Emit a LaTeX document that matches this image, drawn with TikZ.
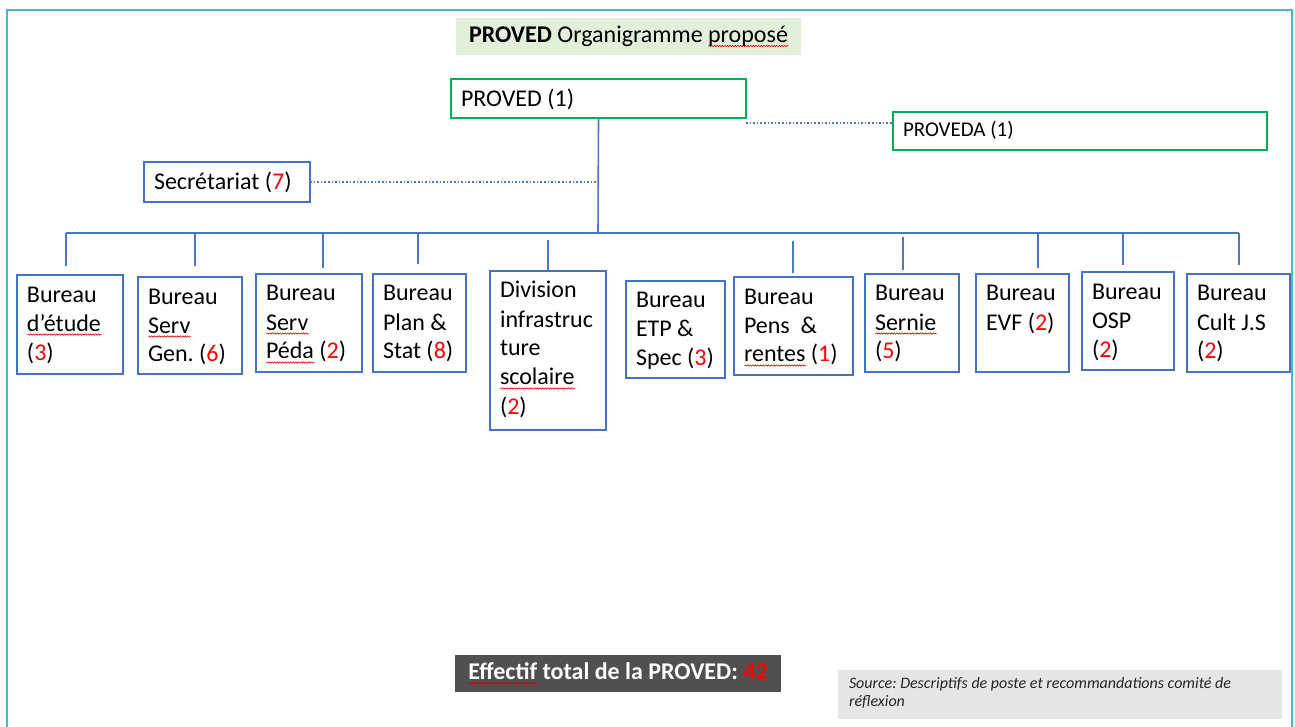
\documentclass[tikz,border=0pt]{standalone}
\usepackage{fontspec}
\setmainfont{Carlito}
\usetikzlibrary{decorations.pathmorphing}

\definecolor{boxblue}{HTML}{4472C4}
\definecolor{linkblue}{HTML}{4A76C6}
\definecolor{headgreen}{HTML}{00B050}
\definecolor{titlegreen}{HTML}{E2EFDA}
\definecolor{framecol}{HTML}{40BEC4}
\definecolor{totalgray}{HTML}{505050}
\definecolor{srcgray}{HTML}{E7E6E6}
\definecolor{numred}{HTML}{FF0000}

% red number inside a label
\newcommand\nr[1]{\textcolor{numred}{#1}}
% spell-check style wavy underline
\newlength\sqlen
\newcommand\sq[1]{\settowidth\sqlen{#1}\leavevmode\rlap{\tikz[baseline=0pt]\draw[numred!85!black,line width=0.6pt,decorate,decoration={snake,amplitude=0.7pt,segment length=2.6pt}] (0pt,-3.5pt)--(\sqlen,-3.5pt);}#1}

\tikzset{
  plain text/.style={align=flush left,
    execute at begin node={\spaceskip=0pt\xspaceskip=0pt\frenchspacing}},
  unit/.style={draw=boxblue, line width=2.8pt, anchor=north west, outer sep=0pt,
    inner xsep=10pt, inner ysep=0pt, plain text, text height=27pt,
    font=\fontsize{24}{29}\selectfont},
  head/.style={unit, draw=headgreen},
  link/.style={draw=linkblue, line width=1.6pt},
  dotlink/.style={draw=linkblue, line width=1.6pt, dotted},
}

\begin{document}
\begin{tikzpicture}[x=1pt,y=-1pt]
\useasboundingbox (0,0) rectangle (1295,727);

% outer frame
\draw[framecol, line width=2pt] (7,760) -- (7,10) -- (1292,10) -- (1292,760);

% title
\node[fill=titlegreen, minimum width=345pt, minimum height=37pt, inner sep=0pt,
  font=\fontsize{24}{29}\selectfont] (title) at (628.5,36.5)
  {\textbf{PROVED} Organigramme \sq{proposé}};

% top of the chart
\node[head, text width=275pt, text height=28pt, text depth=11pt] (proved) at (451,79) {PROVED (1)};
\node[head, text width=354pt, text height=25pt, text depth=13pt,
  font=\fontsize{21}{25}\selectfont] (proveda) at (893,112) {PROVEDA (1)};
\node[unit, text width=146pt, text height=28pt, text depth=12pt] (secr) at (144,162)
  {Secrétariat (\nr{7})};

% bureaux
\node[unit, text width=86pt, text depth=72pt] (b1) at (17,275) {Bureau\\\sq{d’étude}\\(\nr{3})};
\node[unit, text width=84pt, text depth=70pt] (b2) at (138,277) {Bureau\\\sq{Serv}\\Gen. (\nr{6})};
\node[unit, text width=86pt, text depth=71pt] (b3) at (256,274) {Bureau\\\sq{Serv}\\\sq{Péda} (\nr{2})};
\node[unit, text width=73pt, text depth=71pt] (b4) at (373,274) {Bureau\\Plan \&\\Stat (\nr{8})};
\node[unit, text width=96pt, text depth=132pt] (b5) at (490,271) {Division\\infrastruc\\ture\\\sq{scolaire}\\(\nr{2})};
\node[unit, text width=79pt, text height=26pt, text depth=71pt] (b6) at (626,281) {Bureau\\ETP \&\\Spec (\nr{3})};
\node[unit, text width=99pt, text depth=71pt] (b7) at (734,277) {Bureau\\Pens\ \ \&\\\sq{rentes} (\nr{1})};
\node[unit, text width=74pt, text depth=71pt] (b8) at (865,274) {Bureau\\\sq{Sernie}\\(\nr{5})};
\node[unit, text width=73pt, text depth=71pt] (b9) at (976,274) {Bureau\\EVF (\nr{2})};
\node[unit, text width=72pt, text depth=71pt] (b10) at (1082,272) {Bureau\\OSP\\(\nr{2})};
\node[unit, text width=83pt, text depth=71pt] (b11) at (1187,274) {Bureau\\Cult J.S\\(\nr{2})};

% connectors
\coordinate (hub) at (598,233);
\draw[link] (proved.south) -- (hub);
\draw[dotlink] (secr.east) -- (secr.east -| hub);
\coordinate (pj) at (746,123);
\draw[dotlink] (pj) -- (pj -| proveda.west);

\foreach \i/\x/\s/\e in {1/66/0/9, 2/195/0/11, 3/323/0/6, 4/418/0/10, 5/548/7/1,
    7/793/8/4, 8/903/4/4, 9/1038/0/6, 10/1123/0/7, 11/1239/0/9} {
  \coordinate (t\i) at (\x,233);
  \draw[link, shorten <=\s pt, shorten >=\e pt] (t\i) -- (t\i |- b\i.north);
}
\draw[link] (t1) -- (t11);

% totals and source
\node[fill=totalgray, text=white, minimum width=326pt, minimum height=37pt, inner sep=0pt,
  font=\bfseries\fontsize{24}{29}\selectfont] (total) at (618,673.5)
  {\sq{Effectif} total de la PROVED: \nr{42}};
\node[fill=srcgray, anchor=north west, outer sep=0pt, inner xsep=11pt, inner ysep=0pt,
  text width=422pt, text height=18pt, text depth=31pt, plain text, text=black!85,
  font=\itshape\fontsize{16}{18}\selectfont] (src) at (838,670)
  {Source: Descriptifs de poste et recommandations comité de réflexion};
\end{tikzpicture}
\end{document}
